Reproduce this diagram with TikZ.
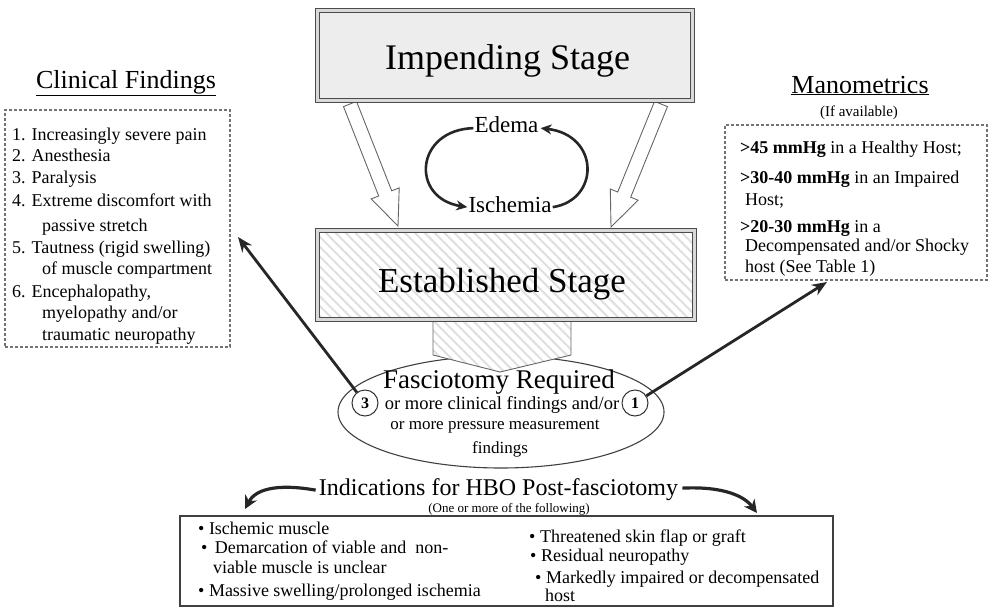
\documentclass[tikz,border=0pt]{standalone}
\usepackage{fontspec}
\setmainfont{Liberation Serif}
\usetikzlibrary{arrows.meta,patterns.meta}
\newcommand{\fsz}[1]{\fontsize{#1}{#1}\selectfont}
\tikzset{
 stagebox/.style={draw=black!70, line width=1pt, double=gray!30, double distance=2.5pt, inner sep=0pt},
 hatchfill/.style={preaction={fill=white}, pattern={Lines[angle=-45,distance=7pt,line width=2pt]}, pattern color=gray!25},
 dashbox/.style={draw=black!55, line width=1.3pt, dash pattern=on 3pt off 2pt, inner sep=0pt},
 lbl/.style={inner sep=0pt, anchor=base west, font=\fsz{18}},
 clbl/.style={inner sep=0pt, anchor=base},
 blockarr/.style={draw=black!60, line width=0.9pt, fill=white, line join=miter},
 cycarr/.style={line width=2.6pt, black!85, -{Stealth[length=11pt,width=10pt]}},
 thickarr/.style={line width=2.8pt, black!85, -{Stealth[length=15pt,width=12pt]}},
 numcirc/.style={circle, draw=black!80, line width=1pt, fill=white, minimum size=26pt, inner sep=0pt, font=\fsz{16}\bfseries},
 curvarr/.style={line width=3.2pt, black!85, -{Stealth[length=13pt,width=13pt]}},
}
\begin{document}
\begin{tikzpicture}[x=1pt,y=-1pt]
\useasboundingbox (0,0) rectangle (992,610);

% block arrows from Impending to Established
\draw[blockarr] (356.5,101.4) -- (391.7,190.8) -- (399.2,187.9) -- (398,226) -- (371.2,198.9) -- (378.7,196.0) -- (343.5,106.6) -- cycle;
\draw[blockarr] (667.5,106.6) -- (630.7,197.2) -- (638.1,200.2) -- (611,227) -- (610.3,189.0) -- (617.7,192.0) -- (654.5,101.4) -- cycle;

% Impending stage
\node[stagebox, fill=gray!14, minimum width=375pt, minimum height=90pt] (imp) at (505,55.5) {};
\node[clbl, font=\fsz{36}] (impt) at (507.5,70) {Impending Stage};

% Edema / Ischemia cycle
\node[clbl, font=\fsz{23}] (ed) at (506.5,132) {Edema};
\node[clbl, font=\fsz{23}] (is) at (510,212) {Ischemia};
\draw[cycarr] ([xshift=-1pt,yshift=-4pt]ed.west) .. controls (415,130) and (410,198) .. ([xshift=-1pt,yshift=-3pt]is.west);
\draw[cycarr] ([xshift=1pt,yshift=-3pt]is.east) .. controls (600,200) and (600,135) .. ([xshift=2pt,yshift=-4pt]ed.east);

% Fasciotomy ellipse
\draw[black!75, line width=1.1pt] (501,412) ellipse [x radius=163, y radius=56];
% pentagon arrow
\draw[hatchfill, draw=black!60, line width=0.9pt] (433,320) -- (571,320) -- (571,355) -- (500,372) -- (433,355) -- cycle;

% Established stage
\node[stagebox, hatchfill, minimum width=377pt, minimum height=89pt] (est) at (506,275) {};
\node[clbl, font=\fsz{35}] (estt) at (502,292) {Established Stage};

\node[clbl, font=\fsz{27}] (fr) at (499,388) {Fasciotomy Required};
\node[clbl, font=\fsz{18.5}] (fr1) at (502,409) {or more clinical findings and/or};
\node[clbl, font=\fsz{17}] (fr2) at (495,429) {or more pressure measurement};
\node[clbl, font=\fsz{17}] (fr3) at (500,453) {findings};
\node[numcirc] (n3) at (365,403) {3};
\node[numcirc] (n1) at (635,403) {1};

% Clinical findings
\node[clbl, font=\fsz{26}] (cft) at (126,88) {\underline{Clinical Findings}};
\node[dashbox, minimum width=225pt, minimum height=237pt] (clin) at (117.5,228.5) {};
\node[lbl] (c1) at (12,140) {1. Increasingly severe pain};
\node[lbl] (c2) at (12,161) {2. Anesthesia};
\node[lbl] (c3) at (12,183) {3. Paralysis};
\node[lbl] (c4) at (12,206) {4. Extreme discomfort with};
\node[lbl] (c4b) at (42,231) {passive stretch};
\node[lbl] (c5) at (12,253) {5. Tautness (rigid swelling)};
\node[lbl] (c5b) at (42,274) {of muscle compartment};
\node[lbl] (c6) at (12,297) {6. Encephalopathy,};
\node[lbl] (c6b) at (42,318) {myelopathy and/or};
\node[lbl] (c6c) at (42,340) {traumatic neuropathy};

% Manometrics
\node[clbl, font=\fsz{26}] (mt) at (860,93) {\underline{Manometrics}};
\node[clbl, font=\fsz{15}] (mt2) at (859,116) {(If available)};
\node[dashbox, minimum width=262pt, minimum height=155pt] (mano) at (856,202.5) {};
\node[lbl] (m1) at (740,153) {\textbf{>45 mmHg} in a Healthy Host;};
\node[lbl] (m2) at (740,183) {\textbf{>30-40 mmHg} in an Impaired};
\node[lbl] (m2b) at (745,205) {Host;};
\node[lbl] (m3) at (740,232) {\textbf{>20-30 mmHg} in a};
\node[lbl] (m3b) at (745,251) {Decompensated and/or Shocky};
\node[lbl] (m3c) at (745,272) {host (See Table 1)};

% arrows from circles
\coordinate (cftip) at (238,237);
\coordinate (mtip) at (827,282);
\draw[thickarr] (n3) -- (cftip);
\draw[thickarr] (n1) -- (mtip);

% Indications
\node[clbl, font=\fsz{24}] (ind) at (498.5,495) {Indications for HBO Post-fasciotomy};
\node[clbl, font=\fsz{13}] (ind2) at (509,512) {(One or more of the following)};
\coordinate (lt) at (245,509);
\coordinate (rt) at (757,513);
\draw[curvarr] ([xshift=-3pt,yshift=-1pt]ind.west) .. controls (275,483) and (255,490) .. (lt);
\draw[curvarr] ([xshift=4pt,yshift=1pt]ind.east) .. controls (725,486) and (745,497) .. (rt);
\node[draw=black!75, line width=1.5pt, minimum width=653pt, minimum height=90pt, inner sep=0pt] (ibox) at (506.5,561) {};
\node[lbl] (i1) at (198,534) {• Ischemic muscle};
\node[lbl] (i2) at (201,553) {•\ \,Demarcation of viable and\ \ non-};
\node[lbl] (i2b) at (213,573) {viable muscle is unclear};
\node[lbl] (i3) at (198,596) {• Massive swelling/prolonged ischemia};
\node[lbl] (j1) at (529,542) {• Threatened skin flap or graft};
\node[lbl] (j2) at (530,561) {• Residual neuropathy};
\node[lbl] (j3) at (535,583) {• Markedly impaired or decompensated};
\node[lbl] (j3b) at (545,601) {host};
\end{tikzpicture}
\end{document}
